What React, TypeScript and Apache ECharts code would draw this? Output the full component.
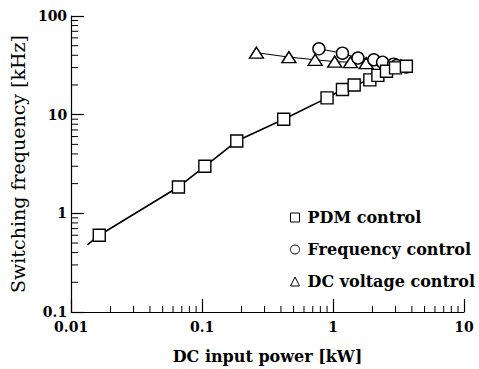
import React, { useEffect, useRef } from "react";
import * as echarts from "echarts";

const pdmData: [number, number][] = [
  [0.0164, 0.6], [0.066, 1.85], [0.105, 3.0], [0.184, 5.4], [0.42, 9.0],
  [0.9, 14.8], [1.18, 18.0], [1.45, 20.0], [1.91, 22.5], [2.2, 25.0],
  [2.56, 27.5], [3.0, 29.8], [3.63, 31.0],
];
const pdmLineStart: [number, number] = [0.0133, 0.48];
const freqData: [number, number][] = [
  [0.78, 46.5], [1.18, 42.0], [1.55, 37.5], [2.05, 36.0], [2.39, 34.0],
  [2.9, 32.5], [3.05, 31.5], [3.63, 30.5],
];
const dcvData: [number, number][] = [
  [0.26, 42.5], [0.46, 38.3], [0.73, 36.0], [1.03, 34.5], [1.36, 34.0],
  [1.79, 33.3], [2.54, 32.5], [2.97, 32.0], [3.3, 31.5],
];
const xMinorTicks = [0.02, 0.03, 0.04, 0.05, 0.06, 0.07, 0.08, 0.09, 0.2, 0.3, 0.4, 0.5, 0.6, 0.7, 0.8, 0.9, 2, 3, 4, 5, 6, 7, 8, 9];
const yMinorTicks = [0.2, 0.3, 0.4, 0.5, 0.6, 0.7, 0.8, 0.9, 2, 3, 4, 5, 6, 7, 8, 9, 20, 30, 40, 50, 60, 70, 80, 90];
const legendNames = ["PDM control", "Frequency control", "DC voltage control"];

const FONT = "DejaVu Serif";

export default function App() {
  const ref = useRef<HTMLDivElement>(null);
  useEffect(() => {
    if (!ref.current) return;
    const chart = echarts.init(ref.current, undefined, { renderer: "svg" });
    const markerStyle = { color: "#fff", borderColor: "#000", borderWidth: 1.4 };
    chart.setOption({
      animation: false,
      backgroundColor: "#fff",
      grid: { left: 67, right: 15, top: 16, bottom: 56 },
      xAxis: {
        type: "log",
        logBase: 10,
        min: 0.01,
        max: 10,
        name: "DC input power [kW]",
        nameLocation: "middle",
        nameGap: 36,
        nameTextStyle: { fontFamily: FONT, fontWeight: "bold", fontSize: 16, color: "#000" },
        axisLine: { lineStyle: { color: "#000", width: 1.2 } },
        axisTick: { inside: true, length: 13, lineStyle: { color: "#000", width: 1.2 } },
        axisLabel: {
          fontFamily: FONT, fontWeight: "bold", fontSize: 14, color: "#000", margin: 8,
          formatter: (v: number) => (v < 1 ? String(Number(v.toPrecision(3))) : String(Math.round(v))),
        },
        splitLine: { show: false },
      },
      yAxis: {
        type: "log",
        logBase: 10,
        min: 0.1,
        max: 100,
        name: "Switching frequency [kHz]",
        nameLocation: "middle",
        nameGap: 34,
        nameTextStyle: { fontFamily: FONT, fontSize: 19, color: "#000" },
        axisLine: { lineStyle: { color: "#000", width: 1.2 } },
        axisTick: { inside: true, length: 13, lineStyle: { color: "#000", width: 1.2 } },
        axisLabel: {
          fontFamily: FONT, fontWeight: "bold", fontSize: 14, color: "#000", margin: 4,
          formatter: (v: number) => (v < 1 ? String(Number(v.toPrecision(3))) : String(Math.round(v))),
        },
        splitLine: { show: false },
      },
      legend: {
        data: [
          { name: legendNames[0], icon: "rect" },
          { name: legendNames[1], icon: "circle" },
          { name: legendNames[2], icon: "triangle" },
        ],
        orient: "vertical",
        left: 290,
        top: 208,
        padding: 0,
        itemWidth: 9,
        itemHeight: 9,
        itemGap: 13,
        itemStyle: { color: "#fff", borderColor: "#000", borderWidth: 1 },
        textStyle: { fontFamily: FONT, fontWeight: "bold", fontSize: 16, color: "#000", padding: [0, 0, 0, 3], lineHeight: 19 },
      },
      series: [
        {
          type: "custom",
          name: "xminor",
          silent: true,
          clip: false,
          data: xMinorTicks.map((v) => [v, 0.1]),
          renderItem: (_p: any, api: any) => {
            const pt = api.coord([api.value(0), api.value(1)]);
            return { type: "line", shape: { x1: pt[0], y1: pt[1], x2: pt[0], y2: pt[1] - 6 }, style: { stroke: "#000", lineWidth: 1 } };
          },
        },
        {
          type: "custom",
          name: "yminor",
          silent: true,
          clip: false,
          data: yMinorTicks.map((v) => [0.01, v]),
          renderItem: (_p: any, api: any) => {
            const pt = api.coord([api.value(0), api.value(1)]);
            return { type: "line", shape: { x1: pt[0], y1: pt[1], x2: pt[0] + 7, y2: pt[1] }, style: { stroke: "#000", lineWidth: 1 } };
          },
        },
        {
          type: "line",
          name: legendNames[2],
          data: dcvData,
          symbol: "triangle",
          symbolSize: [14, 11],
          lineStyle: { color: "#000", width: 1 },
          itemStyle: markerStyle,
          z: 3,
        },
        {
          type: "line",
          name: legendNames[1],
          data: freqData,
          symbol: "circle",
          symbolSize: 12,
          lineStyle: { color: "#000", width: 1 },
          itemStyle: markerStyle,
          z: 4,
        },
        {
          type: "line",
          name: legendNames[0],
          data: [{ value: pdmLineStart, symbol: "none" }, ...pdmData],
          symbol: "rect",
          symbolSize: 12,
          lineStyle: { color: "#000", width: 1.6 },
          itemStyle: markerStyle,
          z: 5,
        },
      ],
    });
    return () => chart.dispose();
  }, []);
  return <div ref={ref} style={{ width: 479, height: 369, position: "fixed", left: 0, top: 0 }} />;
}
